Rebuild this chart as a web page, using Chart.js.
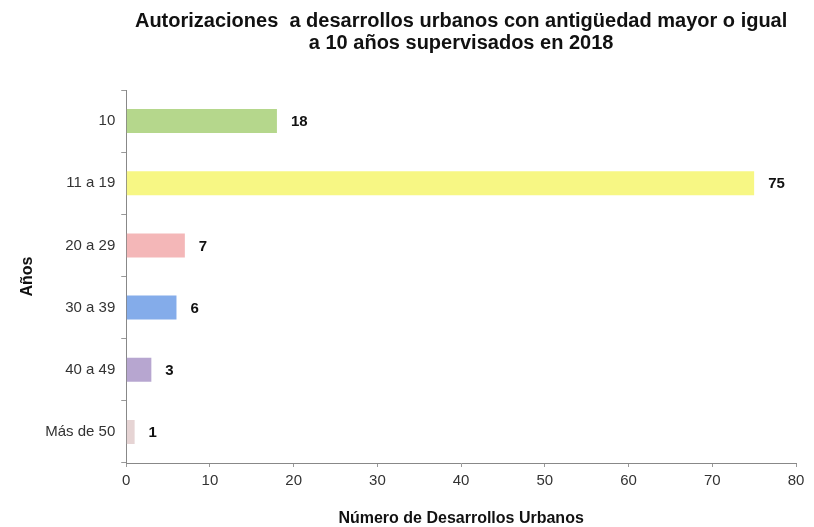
<!DOCTYPE html>
<html><head><meta charset="utf-8">
<script src="https://cdn.jsdelivr.net/npm/chart.js@4.4.0/dist/chart.umd.min.js"></script>
<style>html,body{margin:0;padding:0;background:#fff}#wrap{width:814px;height:527px;position:relative}</style>
</head><body><div id="wrap"><canvas id="c"></canvas></div>
<script>
const categories = ["10", "11 a 19", "20 a 29", "30 a 39", "40 a 49", "Más de 50"];
const values = [18, 75, 7, 6, 3, 1];
const barColors = ["rgba(168,208,120,0.85)", "rgba(246,246,110,0.85)", "rgba(242,170,172,0.85)", "rgba(110,158,230,0.85)", "rgba(170,150,200,0.85)", "rgba(226,205,205,0.85)"];
const xTicks = [0, 10, 20, 30, 40, 50, 60, 70, 80];
const titleLines = ["Autorizaciones  a desarrollos urbanos con antigüedad mayor o igual", "a 10 años supervisados en 2018"];
const xTitle = "Número de Desarrollos Urbanos";
const yTitle = "Años";

const FONT = '"Liberation Sans", Arial, sans-serif';

const valueLabels = {
  id: 'valueLabels',
  afterDatasetsDraw(chart) {
    const ctx = chart.ctx;
    const meta = chart.getDatasetMeta(0);
    ctx.save();
    ctx.font = 'bold 15px ' + FONT;
    ctx.fillStyle = '#111';
    ctx.textAlign = 'left';
    ctx.textBaseline = 'middle';
    meta.data.forEach((bar, i) => {
      ctx.fillText(String(values[i]), bar.x + 14, bar.y + 1);
    });
    ctx.restore();
  }
};

new Chart(document.getElementById('c'), {
  type: 'bar',
  data: {
    labels: categories,
    datasets: [{
      data: values,
      backgroundColor: barColors,
      borderWidth: 0,
      barPercentage: 0.77,
      categoryPercentage: 0.5
    }]
  },
  options: {
    indexAxis: 'y',
    responsive: true,
    maintainAspectRatio: false,
    animation: false,
    layout: { padding: { left: 12, right: 18, top: 0, bottom: 0 } },
    plugins: {
      legend: { display: false },
      tooltip: { enabled: false },
      title: {
        display: true,
        fullSize: false,
        text: titleLines,
        color: '#111',
        font: { family: FONT, size: 20, weight: 'bold', lineHeight: 1.1 },
        padding: { top: 10, bottom: 36 }
      }
    },
    scales: {
      x: {
        type: 'linear',
        min: 0, max: 80,
        afterBuildTicks(scale) { scale.ticks = xTicks.map(v => ({ value: v })); },
        ticks: { color: '#333', font: { family: FONT, size: 15 }, padding: 5 },
        grid: { display: true, drawOnChartArea: false, tickLength: 4, color: '#999' },
        border: { color: '#888' },
        title: { display: true, text: xTitle, color: '#111', font: { family: FONT, size: 16, weight: 'bold', lineHeight: 1.0 }, padding: { top: 16, bottom: 0 } }
      },
      y: {
        ticks: { color: '#333', font: { family: FONT, size: 15 }, padding: 6 },
        grid: { display: true, drawOnChartArea: false, tickLength: 5, offset: true, color: '#999' },
        border: { color: '#888' },
        title: { display: true, text: yTitle, color: '#111', font: { family: FONT, size: 16, weight: 'bold' }, padding: { top: 6, bottom: 2 } }
      }
    }
  },
  plugins: [valueLabels]
});
</script></body></html>
